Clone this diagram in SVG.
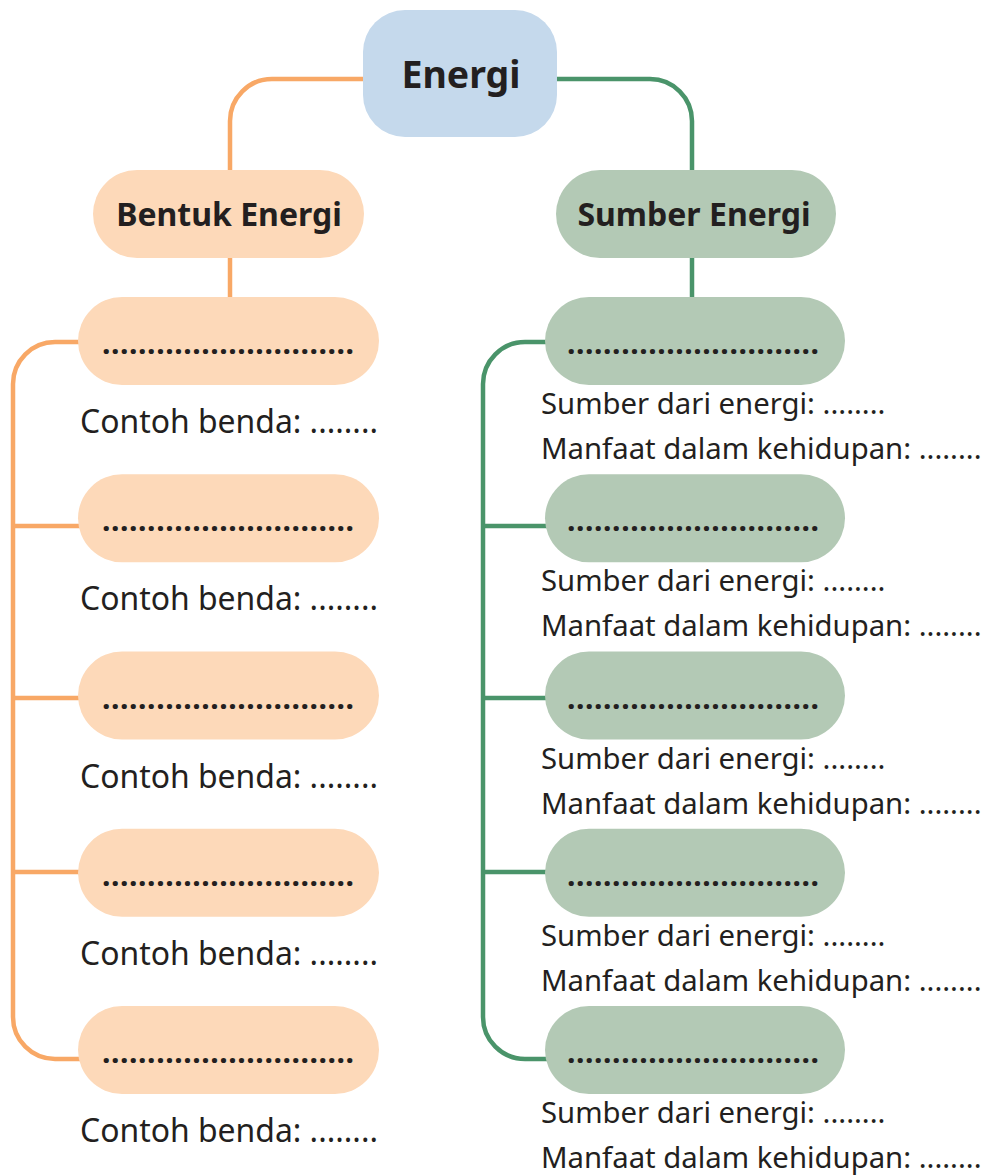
<svg xmlns="http://www.w3.org/2000/svg" width="984" height="1175" viewBox="0 0 984 1175">
<style>
.or{fill:none;stroke:#F8A866;stroke-width:4.5}
.gr{fill:none;stroke:#4A946A;stroke-width:4.5}
.fo{fill:#FDD9B9}
.fg{fill:#B3C9B5}
.fb{fill:#C5D9EC}
.t{font-family:"Noto Sans","Open Sans","Liberation Sans",sans-serif;fill:#231F20}
.b{font-weight:bold}
.dots{font-family:"Noto Sans","Liberation Sans",sans-serif;font-weight:bold;font-size:30px;fill:#231F20}
.c{font-size:31.9px}
.s{font-size:29.3px}
</style>
<rect width="984" height="1175" fill="#fff"/>
<g id="connectors">
<path class="or" d="M372 79 H272 A42 42 0 0 0 230 121 V172"/>
<path class="gr" d="M550 79 H650 A42 42 0 0 1 692 121 V172"/>
<path class="or" d="M230 256 V299"/>
<path class="gr" d="M692 256 V299"/>
<path class="or" d="M80 342 H55 A42 42 0 0 0 13 384 V1017 A42 42 0 0 0 55 1059 H80"/>
<path class="or" d="M13 526 H80 M13 698 H80 M13 872 H80"/>
<path class="gr" d="M547 342 H525 A42 42 0 0 0 483 384 V1017 A42 42 0 0 0 525 1059 H547"/>
<path class="gr" d="M483 526 H547 M483 698 H547 M483 872 H547"/>
</g>
<g id="energi"><rect class="fb" x="363" y="10" width="194" height="127" rx="42"/><text class="t b" x="461" y="88" font-size="37.5" text-anchor="middle">Energi</text></g>
<g id="bentuk"><rect class="fo" x="93" y="170" width="271" height="88" rx="44"/><text class="t b" x="229" y="226" font-size="32" text-anchor="middle">Bentuk Energi</text></g>
<g id="sumber"><rect class="fg" x="556" y="170" width="280" height="88" rx="44"/><text class="t b" x="694" y="226" font-size="32" text-anchor="middle">Sumber Energi</text></g>

<g id="b1"><rect class="fo" x="78" y="297" width="301" height="88" rx="44"/><text class="dots" x="102" y="354" textLength="252" lengthAdjust="spacing">............................</text><text class="t c" x="80" y="433">Contoh benda: ........</text></g>
<g id="b2"><rect class="fo" x="78" y="474.25" width="301" height="88" rx="44"/><text class="dots" x="102" y="531.25" textLength="252" lengthAdjust="spacing">............................</text><text class="t c" x="80" y="610.25">Contoh benda: ........</text></g>
<g id="b3"><rect class="fo" x="78" y="651.5" width="301" height="88" rx="44"/><text class="dots" x="102" y="708.5" textLength="252" lengthAdjust="spacing">............................</text><text class="t c" x="80" y="787.5">Contoh benda: ........</text></g>
<g id="b4"><rect class="fo" x="78" y="828.75" width="301" height="88" rx="44"/><text class="dots" x="102" y="885.75" textLength="252" lengthAdjust="spacing">............................</text><text class="t c" x="80" y="964.75">Contoh benda: ........</text></g>
<g id="b5"><rect class="fo" x="78" y="1006" width="301" height="88" rx="44"/><text class="dots" x="102" y="1063" textLength="252" lengthAdjust="spacing">............................</text><text class="t c" x="80" y="1142">Contoh benda: ........</text></g>

<g id="s1"><rect class="fg" x="545" y="297" width="300" height="88" rx="44"/><text class="dots" x="567" y="354" textLength="252" lengthAdjust="spacing">............................</text><text class="t s" x="541" y="414">Sumber dari energi: ........</text><text class="t s" x="541" y="459">Manfaat dalam kehidupan: ........</text></g>
<g id="s2"><rect class="fg" x="545" y="474.25" width="300" height="88" rx="44"/><text class="dots" x="567" y="531.25" textLength="252" lengthAdjust="spacing">............................</text><text class="t s" x="541" y="591.25">Sumber dari energi: ........</text><text class="t s" x="541" y="636.25">Manfaat dalam kehidupan: ........</text></g>
<g id="s3"><rect class="fg" x="545" y="651.5" width="300" height="88" rx="44"/><text class="dots" x="567" y="708.5" textLength="252" lengthAdjust="spacing">............................</text><text class="t s" x="541" y="768.5">Sumber dari energi: ........</text><text class="t s" x="541" y="813.5">Manfaat dalam kehidupan: ........</text></g>
<g id="s4"><rect class="fg" x="545" y="828.75" width="300" height="88" rx="44"/><text class="dots" x="567" y="885.75" textLength="252" lengthAdjust="spacing">............................</text><text class="t s" x="541" y="945.75">Sumber dari energi: ........</text><text class="t s" x="541" y="990.75">Manfaat dalam kehidupan: ........</text></g>
<g id="s5"><rect class="fg" x="545" y="1006" width="300" height="88" rx="44"/><text class="dots" x="567" y="1063" textLength="252" lengthAdjust="spacing">............................</text><text class="t s" x="541" y="1123">Sumber dari energi: ........</text><text class="t s" x="541" y="1168">Manfaat dalam kehidupan: ........</text></g>
</svg>
